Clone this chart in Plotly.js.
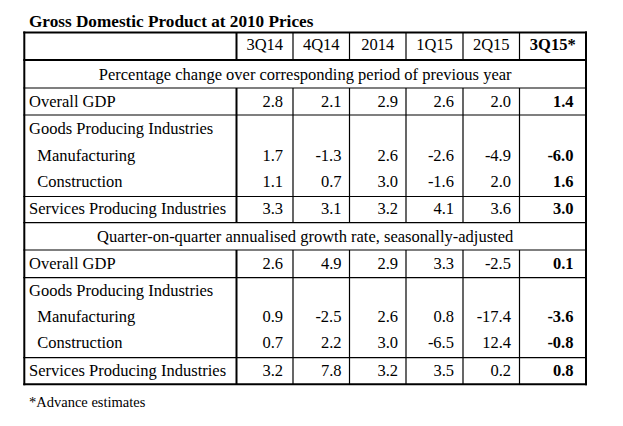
<!DOCTYPE html>
<html>
<head>
<meta charset="utf-8">
<script src="https://cdn.plot.ly/plotly-3.0.1.min.js"></script>
<style>html,body{margin:0;padding:0;background:#fff;}#chart{width:623px;height:426px;}</style>
</head>
<body>
<div id="chart"></div>
<script>
// ---- data ----
const chartTitle = 'Gross Domestic Product at 2010 Prices';
const periods = ['3Q14', '4Q14', '2014', '1Q15', '2Q15', '3Q15*'];
const sectionTitles = [
  'Percentage change over corresponding period of previous year',
  'Quarter-on-quarter annualised growth rate, seasonally-adjusted'
];
const rowLabels = ['Overall GDP', 'Goods Producing Industries', 'Manufacturing', 'Construction', 'Services Producing Industries'];
const yoyOverall      = [2.8, 2.1, 2.9, 2.6, 2.0, 1.4];
const yoyManufacturing = [1.7, -1.3, 2.6, -2.6, -4.9, -6.0];
const yoyConstruction = [1.1, 0.7, 3.0, -1.6, 2.0, 1.6];
const yoyServices     = [3.3, 3.1, 3.2, 4.1, 3.6, 3.0];
const qoqOverall      = [2.6, 4.9, 2.9, 3.3, -2.5, 0.1];
const qoqManufacturing = [0.9, -2.5, 2.6, 0.8, -17.4, -3.6];
const qoqConstruction = [0.7, 2.2, 3.0, -6.5, 12.4, -0.8];
const qoqServices     = [3.2, 7.8, 3.2, 3.5, 0.2, 0.8];
const footnote = '*Advance estimates';

// ---- layout geometry (pixel space) ----
const FONT = 'Liberation Serif, Times New Roman, serif';
const FS = 16.5;
const TY = 1.3; // baseline correction
const colEdges = [24.3, 236.5, 293, 349.5, 406, 463, 519.5, 586];
const colTextRight = [283, 341.5, 398, 454, 511, 573.5];
const headerY = 45;
const block1 = {sec: 75, overall: 101.5, goods: 129, manuf: 155.5, constr: 182, services: 209};
const block2 = {sec: 236.5, overall: 263.5, goods: 290.7, manuf: 316.7, constr: 343, services: 370.7};
const labelX = 29, indentX = 37.3;
const hLines = [
  {y: 32.6, w: 2}, {y: 60, w: 2}, {y: 88, w: 1.2}, {y: 115, w: 1.2}, {y: 196.5, w: 1.2},
  {y: 222.7, w: 1.2}, {y: 250, w: 1.2}, {y: 277.7, w: 1.2}, {y: 357.7, w: 1.2}, {y: 384.3, w: 2}
];
const vSegments = [[32.6, 60], [88, 222.7], [250, 384.3]];

const fmt = v => v.toFixed(1);
const traces = [];
function textTrace(xs, ys, texts, pos, bold, size) {
  traces.push({
    type: 'scatter', mode: 'text', x: xs, y: ys.map(v => v + TY), text: texts,
    textposition: pos, hoverinfo: 'skip', showlegend: false, cliponaxis: false,
    textfont: {family: FONT, size: size || FS, color: '#000', weight: bold ? 'bold' : 'normal'}
  });
}

// header
const headerCenters = periods.map((p, i) => (colEdges[i + 1] + colEdges[i + 2]) / 2);
textTrace(headerCenters.slice(0, 5), periods.slice(0, 5).map(() => headerY), periods.slice(0, 5), 'middle center', false);
textTrace([headerCenters[5]], [headerY], [periods[5]], 'middle center', true);

// section titles
const tableCenter = (colEdges[0] + colEdges[colEdges.length - 1]) / 2;
textTrace([tableCenter, tableCenter], [block1.sec, block2.sec], sectionTitles, 'middle center', false);

// row labels
[block1, block2].forEach(b => {
  textTrace([labelX, labelX, indentX, indentX, labelX],
    [b.overall, b.goods, b.manuf, b.constr, b.services], rowLabels, 'middle right', false);
});

// values
function valueRows(b, series) {
  const ys = [b.overall, b.manuf, b.constr, b.services];
  series.forEach((arr, r) => {
    textTrace(colTextRight.slice(0, 5), arr.slice(0, 5).map(() => ys[r]), arr.slice(0, 5).map(fmt), 'middle left', false);
    textTrace([colTextRight[5]], [ys[r]], [fmt(arr[5])], 'middle left', true);
  });
}
valueRows(block1, [yoyOverall, yoyManufacturing, yoyConstruction, yoyServices]);
valueRows(block2, [qoqOverall, qoqManufacturing, qoqConstruction, qoqServices]);

// footnote
textTrace([labelX], [402], [footnote], 'middle right', false, 14.5);

// grid lines
const shapes = [];
hLines.forEach(h => shapes.push({type: 'line', xref: 'x', yref: 'y', x0: colEdges[0] - 1, x1: colEdges[colEdges.length - 1] + 1, y0: h.y, y1: h.y, line: {color: '#000', width: h.w}}));
[colEdges[0], colEdges[colEdges.length - 1]].forEach(x => shapes.push({type: 'line', xref: 'x', yref: 'y', x0: x, x1: x, y0: 32.6 - 1, y1: 384.3 + 1, line: {color: '#000', width: 2}}));
colEdges.slice(1, -1).forEach((x, i) => {
  vSegments.forEach(s => shapes.push({type: 'line', xref: 'x', yref: 'y', x0: x, x1: x, y0: s[0], y1: s[1], line: {color: '#000', width: i === 0 ? 2 : 1.2}}));
});

const layout = {
  width: 623, height: 426, margin: {l: 0, r: 0, t: 0, b: 0},
  paper_bgcolor: '#fff', plot_bgcolor: '#fff',
  title: {text: '<b>' + chartTitle + '</b>', x: 29 / 623, xanchor: 'left', xref: 'container',
          y: 1 - 21 / 426, yanchor: 'middle', yref: 'container',
          font: {family: FONT, size: 17.2, color: '#000'}},
  xaxis: {range: [0, 623], visible: false, fixedrange: true},
  yaxis: {range: [426, 0], visible: false, fixedrange: true},
  shapes: shapes, showlegend: false
};
Plotly.newPlot('chart', traces, layout, {staticPlot: true, displayModeBar: false});
</script>
</body>
</html>
